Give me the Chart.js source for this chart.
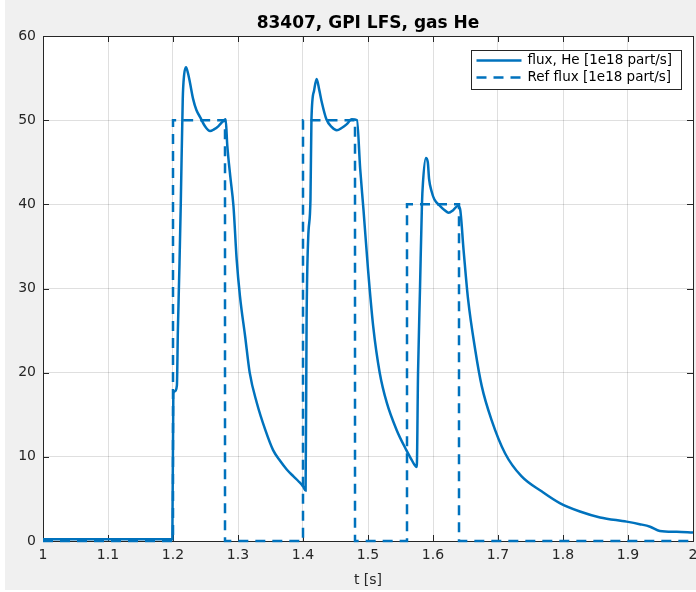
<!DOCTYPE html>
<html><head><meta charset="utf-8">
<script src="https://cdn.jsdelivr.net/npm/chart.js@4.4.1/dist/chart.umd.min.js"></script>
<style>html,body{margin:0;padding:0;background:#fff;overflow:hidden;} canvas{display:block;}</style>
</head><body>
<canvas id="c" width="696" height="592"></canvas>
<script>
const titleText = '83407, GPI LFS, gas He';
const xAxisTitle = 't [s]';
const fluxLabel = 'flux, He [1e18 part/s]';
const refLabel = 'Ref flux [1e18 part/s]';
const xTickValues = [1, 1.1, 1.2, 1.3, 1.4, 1.5, 1.6, 1.7, 1.8, 1.9, 2];
const xTickLabels = ['1', '1.1', '1.2', '1.3', '1.4', '1.5', '1.6', '1.7', '1.8', '1.9', '2'];
const yTickValues = [0, 10, 20, 30, 40, 50, 60];
const yTickLabels = ['0', '10', '20', '30', '40', '50', '60'];

const fluxT = [1.000, 1.050, 1.100, 1.150, 1.199, 1.2005, 1.203, 1.206, 1.2075, 1.210, 1.212, 1.215, 1.217, 1.220, 1.223, 1.226, 1.231, 1.236, 1.2415, 1.249, 1.257, 1.263, 1.270, 1.276, 1.281,
  1.2835, 1.288, 1.293, 1.298, 1.303, 1.311, 1.318, 1.329, 1.342, 1.354, 1.365, 1.375, 1.385, 1.393, 1.400, 1.404,
  1.4055, 1.408, 1.4115, 1.413, 1.417, 1.421, 1.425, 1.429, 1.436, 1.444, 1.452, 1.460, 1.467, 1.475, 1.483,
  1.488, 1.493, 1.500, 1.508, 1.518, 1.529, 1.544, 1.559, 1.566, 1.572, 1.575,
  1.577, 1.580, 1.583, 1.5845, 1.589, 1.592, 1.594, 1.598, 1.602, 1.611, 1.618, 1.624, 1.631, 1.638, 1.6415,
  1.647, 1.654, 1.665, 1.675, 1.690, 1.711, 1.736, 1.767, 1.795, 1.826, 1.857, 1.898, 1.918, 1.934, 1.949, 1.975, 2.000];
const fluxV = [0.2, 0.2, 0.2, 0.2, 0.2, 17.5, 17.8, 18.5, 25, 33, 40.2, 52.5, 55.3, 56.3, 55.6, 54.5, 52.5, 51.2, 50.4, 49.3, 48.7, 48.9, 49.3, 49.8, 50.1,
  47, 43.4, 39.8, 33.4, 29.1, 24.3, 20.0, 16.4, 13.2, 10.8, 9.5, 8.5, 7.7, 7.1, 6.5, 6.0,
  26, 36, 40.6, 50.1, 53.5, 54.9, 53.6, 52.1, 50.1, 49.2, 48.8, 49.1, 49.5, 50.1, 50.0,
  44.2, 39.4, 32.3, 25.5, 20.0, 16.4, 13.2, 10.8, 9.8, 9.0, 8.8,
  20, 30, 40, 42.5, 45.5, 45.0, 43.0, 41.5, 40.6, 39.8, 39.3, 39.0, 39.3, 39.8, 39.5,
  34.6, 28.7, 22.7, 18.4, 14.4, 10.4, 7.7, 5.9, 4.5, 3.5, 2.8, 2.3, 2.0, 1.7, 1.2, 1.1, 1.0];

const refT = [1.0, 1.2, 1.2, 1.28, 1.28, 1.40, 1.40, 1.48, 1.48, 1.56, 1.56, 1.64, 1.64, 2.0];
const refV = [0, 0, 50, 50, 0, 0, 50, 50, 0, 0, 40, 40, 0, 0];

const lineColor = '#0072BD';
const axisColor = '#262626';
const fontFamily = 'DejaVu Sans';

const fluxData = fluxT.map((t, i) => ({x: t, y: fluxV[i]}));
const refData = refT.map((t, i) => ({x: t, y: refV[i]}));

function labelFor(values, labels, v) {
  const i = values.findIndex(t => Math.abs(t - v) < 1e-6);
  return i >= 0 ? labels[i] : '';
}

const bgPlugin = {
  id: 'bg',
  beforeDraw(chart) {
    const ctx = chart.ctx, a = chart.chartArea;
    ctx.save();
    ctx.fillStyle = '#ffffff';
    ctx.fillRect(0, 0, chart.width, chart.height);
    ctx.fillStyle = '#f0f0f0';
    ctx.fillRect(5, 0, chart.width - 5, chart.height - 2);
    ctx.fillStyle = '#ffffff';
    ctx.fillRect(a.left, a.top, a.right - a.left, a.bottom - a.top);
    ctx.restore();
  },
  beforeDatasetsDraw(chart) {
    const ctx = chart.ctx, a = chart.chartArea;
    const xs = chart.scales.x, ys = chart.scales.y;
    ctx.save();
    ctx.strokeStyle = axisColor;
    ctx.lineWidth = 1;
    ctx.beginPath();
    xTickValues.forEach(v => {
      const px = Math.round(xs.getPixelForValue(v)) + 0.5;
      ctx.moveTo(px, a.bottom); ctx.lineTo(px, a.bottom - 6);
      ctx.moveTo(px, a.top); ctx.lineTo(px, a.top + 6);
    });
    yTickValues.forEach(v => {
      const py = Math.round(ys.getPixelForValue(v)) + 0.5;
      ctx.moveTo(a.left, py); ctx.lineTo(a.left + 6, py);
      ctx.moveTo(a.right, py); ctx.lineTo(a.right - 6, py);
    });
    ctx.stroke();
    ctx.strokeRect(Math.round(a.left) + 0.5, Math.round(a.top) + 0.5, Math.round(a.right - a.left), Math.round(a.bottom - a.top));
    ctx.restore();
  },
  afterDraw(chart) {
    const ctx = chart.ctx, a = chart.chartArea;
    const bx = Math.round(a.right) - 221.5, by = Math.round(a.top) + 14.5, bw = 210, bh = 39;
    ctx.save();
    ctx.fillStyle = '#ffffff';
    ctx.fillRect(bx, by, bw, bh);
    ctx.strokeStyle = axisColor;
    ctx.lineWidth = 1;
    ctx.strokeRect(bx, by, bw, bh);
    const ds = chart.data.datasets;
    const rows = [ds[1], ds[0]];
    rows.forEach((d, i) => {
      const y = by + 10 + i * 17;
      ctx.strokeStyle = d.borderColor;
      ctx.lineWidth = d.borderWidth;
      ctx.setLineDash(d.borderDash || []);
      ctx.beginPath();
      ctx.moveTo(bx + 5, y); ctx.lineTo(bx + 50, y);
      ctx.stroke();
      ctx.setLineDash([]);
      ctx.fillStyle = '#000000';
      ctx.font = '13.5px "' + fontFamily + '"';
      ctx.textBaseline = 'middle';
      ctx.textAlign = 'left';
      ctx.fillText(d.label, bx + 56, y);
    });
    ctx.restore();
  }
};

new Chart(document.getElementById('c'), {
  type: 'line',
  data: {
    datasets: [
      {label: refLabel, data: refData, borderColor: lineColor, borderWidth: 2.5, borderDash: [10, 7], pointRadius: 0, tension: 0, fill: false, clip: 4},
      {label: fluxLabel, data: fluxData, borderColor: lineColor, borderWidth: 2.5, pointRadius: 0, cubicInterpolationMode: 'monotone', fill: false, clip: 4}
    ]
  },
  options: {
    responsive: false,
    animation: false,
    devicePixelRatio: 1,
    layout: {padding: {left: 0, right: 3, top: 0, bottom: 0}},
    plugins: {
      legend: {display: false},
      tooltip: {enabled: false},
      title: {
        display: true, text: titleText, fullSize: false, color: '#000000',
        font: {family: fontFamily, size: 17, weight: 'bold'},
        padding: {top: 13.6, bottom: 2}
      }
    },
    scales: {
      x: {
        type: 'linear', min: 1, max: 2,
        ticks: {
          stepSize: 0.1, autoSkip: false, maxRotation: 0, padding: 6,
          color: axisColor, font: {family: fontFamily, size: 14},
          callback: v => labelFor(xTickValues, xTickLabels, v)
        },
        grid: {color: 'rgba(38,38,38,0.15)', drawTicks: false},
        border: {display: false},
        title: {display: true, text: xAxisTitle, color: axisColor, font: {family: fontFamily, size: 14}, padding: {top: 3, bottom: 3}},
        afterFit: s => { s.height = 51; s.paddingRight = 0; s.paddingLeft = 0; }
      },
      y: {
        min: 0, max: 60,
        ticks: {
          stepSize: 10, padding: 7,
          color: axisColor, font: {family: fontFamily, size: 14},
          callback: v => labelFor(yTickValues, yTickLabels, v)
        },
        grid: {color: 'rgba(38,38,38,0.15)', drawTicks: false},
        border: {display: false},
        afterFit: s => { s.width = 43; }
      }
    }
  },
  plugins: [bgPlugin]
});
</script>
</body></html>
